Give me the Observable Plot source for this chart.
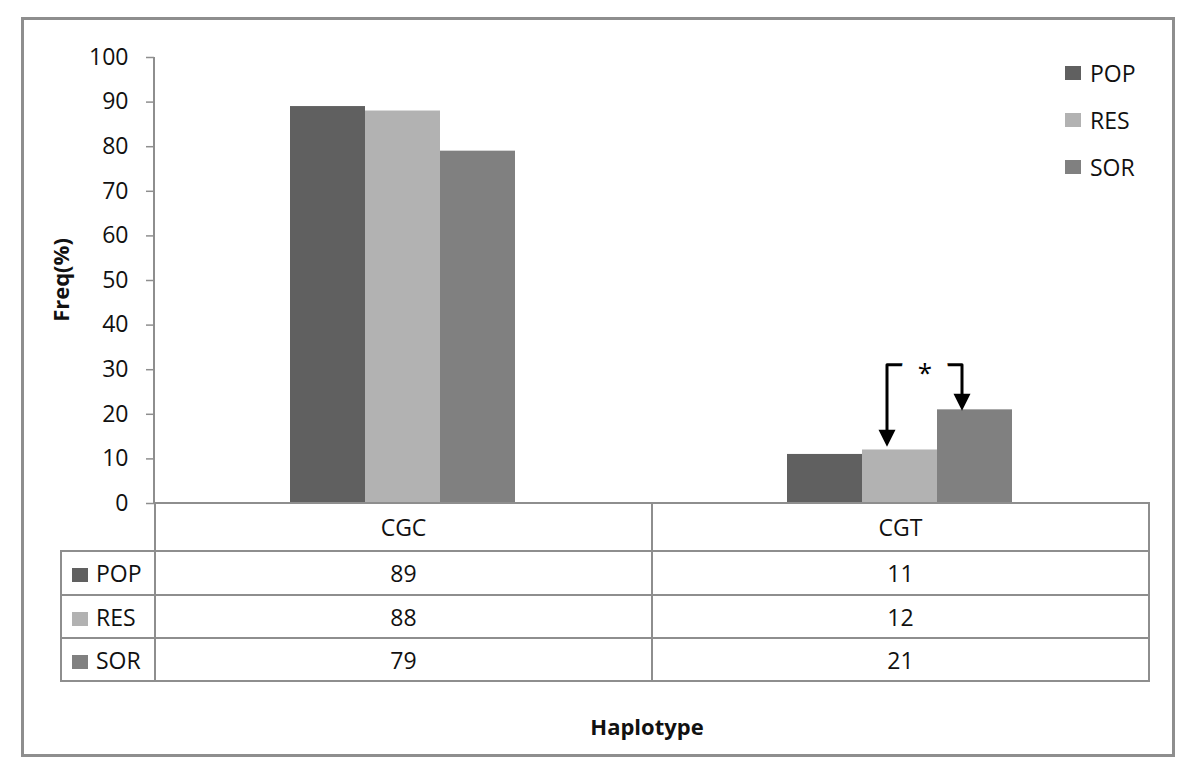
<!DOCTYPE html>
<html>
<head>
<meta charset="utf-8">
<script src="https://cdn.jsdelivr.net/npm/d3@7"></script>
<script src="https://cdn.jsdelivr.net/npm/@observablehq/plot@0.6"></script>
<style>
  html, body { margin: 0; padding: 0; background: #fff; }
  body { width: 1200px; height: 783px; position: relative; overflow: hidden; font-family: "Open Sans", sans-serif; color: #111; }
  #frame { position: absolute; left: 21px; top: 17px; width: 1154px; height: 740px; box-sizing: border-box; border: 3px solid #8e8e8e; }
  #chart { position: absolute; left: 0; top: 0; }
  #yline { position: absolute; left: 153px; top: 57px; width: 2px; height: 447px; background: #8e8e8e; }
  #ylabel { position: absolute; left: 60px; top: 280px; transform: translate(-50%, -50%) rotate(-90deg); font-weight: bold; font-size: 22px; white-space: nowrap; }
  #xlabel { position: absolute; left: 647px; top: 726px; transform: translate(-50%, -50%); font-weight: bold; font-size: 22px; white-space: nowrap; }
  #legend { position: absolute; left: 1065px; top: 49px; font-size: 23px; }
  #legend .item { display: flex; align-items: center; height: 47px; }
  .sw { display: inline-block; width: 16px; height: 14px; margin-right: 9px; }
  #table { position: absolute; left: 60px; top: 502px; border-collapse: collapse; table-layout: fixed; width: 1090px; font-size: 23px; }
  #table td { border: 2px solid #8e8e8e; padding: 0; text-align: center; }
  #table td.head { text-align: left; padding-left: 10px; white-space: nowrap; }
  #table td.corner { border-top: none; border-left: none; }
</style>
</head>
<body>
<div id="frame"></div>
<div id="chart"></div>
<div id="yline"></div>
<div id="ylabel"></div>
<div id="xlabel"></div>
<div id="legend"></div>
<table id="table"></table>
<script>
// ---- data ----
const haplotypes = ["CGC", "CGT"];
const groups = ["POP", "RES", "SOR"];
const POP = [89, 11];
const RES = [88, 12];
const SOR = [79, 21];
const yTicks = [0, 10, 20, 30, 40, 50, 60, 70, 80, 90, 100];
const yLabel = "Freq(%)";
const xLabel = "Haplotype";
// significance annotation (CGT: RES vs SOR)
const sigHaplotype = "CGT";
const sigPair = ["RES", "SOR"];
const sigText = "*";
const sigBracketY = 31.1;
const sigTipY = [12.75, 20.8];

// ---- styles ----
const palette = ["#606060", "#b2b2b2", "#808080"];

const seriesValues = {POP, RES, SOR};
const rows = [];
haplotypes.forEach((h, i) => groups.forEach(g => rows.push({haplotype: h, group: g, value: seriesValues[g][i]})));

const bracket = [
  {fx: sigHaplotype, x: sigPair[0], y: sigTipY[0] + 2},
  {fx: sigHaplotype, x: sigPair[0], y: sigBracketY},
  {fx: sigHaplotype, x: sigPair[1], y: sigBracketY},
  {fx: sigHaplotype, x: sigPair[1], y: sigTipY[1] + 2}
];
const heads = sigPair.map((g, i) => ({fx: sigHaplotype, x: g, y: sigTipY[i]}));

const downArrowHead = {
  draw(ctx, size) {
    const r = Math.sqrt(size / Math.PI);
    ctx.moveTo(0, 0);
    ctx.lineTo(-r, -2 * r);
    ctx.lineTo(r, -2 * r);
    ctx.closePath();
  }
};

const chart = Plot.plot({
  width: 1200,
  height: 510,
  marginLeft: 154,
  marginRight: 52,
  marginTop: 57,
  marginBottom: 7,
  style: {fontFamily: "Open Sans, sans-serif", fontSize: "23px", color: "#111", background: "transparent", overflow: "visible"},
  fx: {domain: haplotypes, padding: 0, axis: null},
  x: {domain: groups, paddingInner: 0, paddingOuter: 1.77, axis: null},
  y: {domain: [0, 100], axis: null},
  color: {domain: groups, range: palette},
  marks: [
    Plot.axisY(yTicks, {tickSize: 8, tickPadding: 18, label: null, stroke: "#8e8e8e", strokeWidth: 1.5, fill: "#111", fontSize: 23}),
    Plot.barY(rows, {fx: "haplotype", x: "group", y: "value", fill: "group"}),
    Plot.line(bracket, {fx: "fx", x: "x", y: "y", stroke: "#000", strokeWidth: 3, dx: -13, curve: "linear"}),
    Plot.text([{fx: sigHaplotype, x: sigPair[1], y: sigBracketY}], {fx: "fx", x: "x", y: "y", text: () => sigText, dx: -50, dy: 9, fontSize: 26, fill: "#000", stroke: "#fff", strokeWidth: 34, paintOrder: "stroke", strokeLinejoin: "round"}),
    Plot.dot(heads, {fx: "fx", x: "x", y: "y", symbol: downArrowHead, r: 8.5, fill: "#000", stroke: "none", dx: -13})
  ]
});
document.getElementById("chart").appendChild(chart);

// labels
document.getElementById("ylabel").textContent = yLabel;
document.getElementById("xlabel").textContent = xLabel;

// legend
const legend = d3.select("#legend");
groups.forEach((g, i) => {
  const it = legend.append("div").attr("class", "item");
  it.append("span").attr("class", "sw").style("background", palette[i]);
  it.append("span").text(g);
});

// data table
const table = d3.select("#table");
const cols = table.append("colgroup");
cols.append("col").style("width", "94px");
haplotypes.forEach(() => cols.append("col").style("width", "497px"));
const head = table.append("tr").style("height", "48px");
head.append("td").attr("class", "corner");
haplotypes.forEach(h => head.append("td").text(h));
const rowHeights = ["44px", "43px", "43px"];
groups.forEach((g, gi) => {
  const tr = table.append("tr").style("height", rowHeights[gi]);
  const c = tr.append("td").attr("class", "head");
  c.append("span").attr("class", "sw").style("background", palette[gi]).style("margin-right", "8px");
  c.append("span").text(g);
  haplotypes.forEach((h, hi) => tr.append("td").text(seriesValues[g][hi]));
});
</script>
</body>
</html>
